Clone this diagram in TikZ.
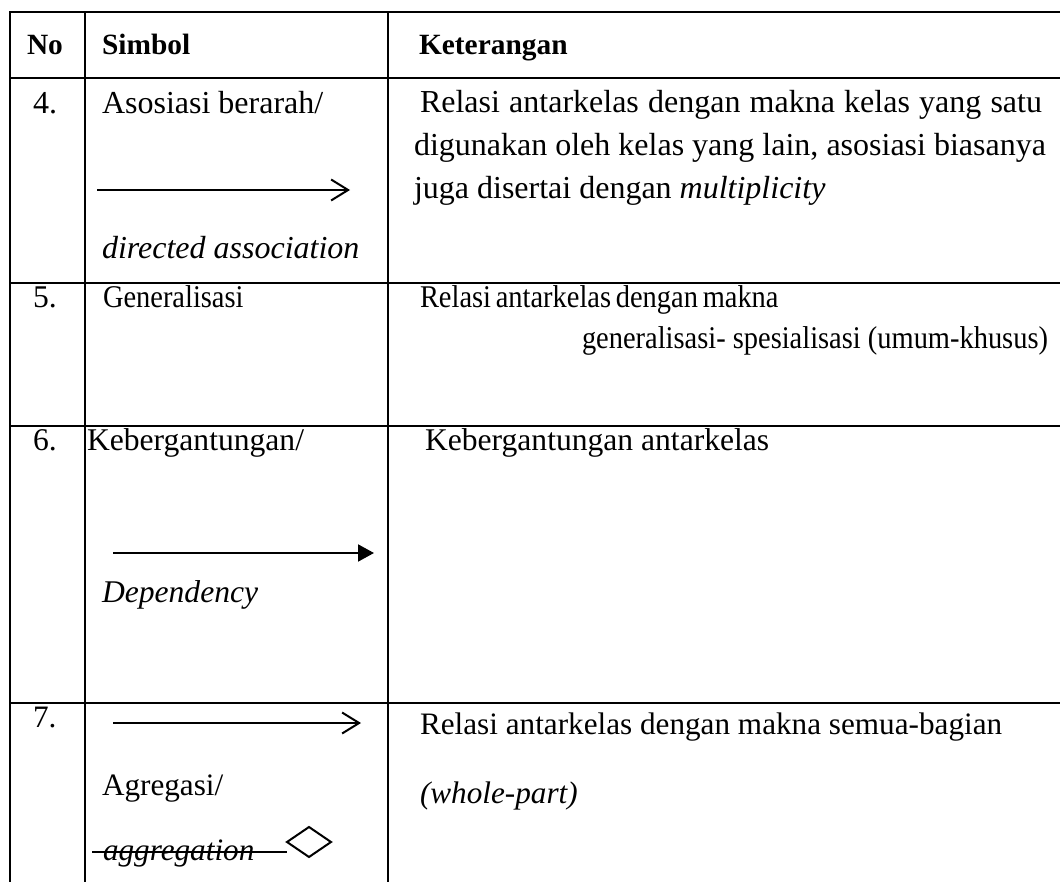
\documentclass[tikz,border=0pt]{standalone}
\usepackage{fontspec}
\usepackage{graphicx}
\setmainfont{Liberation Serif}
\usetikzlibrary{arrows.meta}
\newcommand{\fsz}[1]{\fontsize{#1}{1.2\dimexpr#1\relax}\selectfont}
\newcommand{\condense}[1]{\scalebox{0.9}[1]{#1}}
\begin{document}
\begin{tikzpicture}[x=0.5pt,y=-0.5pt,
  grid/.style={line width=1pt,line cap=rect},
  txt/.style={anchor=base west,inner sep=0pt,outer sep=0pt},
  hd/.style={txt,font=\fsz{14.7pt}\bfseries},
  r4/.style={txt,font=\fsz{16pt}},
  r5/.style={txt,font=\fsz{15.8pt}},
  r6/.style={txt,font=\fsz{15.8pt}},
  r7/.style={txt,font=\fsz{15.6pt}},
  sym/.style={line width=1pt},
  openhead/.style={sym,-{Straight Barb[length=8.5pt,width=10.5pt,line width=1pt]}},
  filledhead/.style={sym,-{Triangle[length=8pt,width=8.5pt]}}]
\useasboundingbox (0,0) rectangle (1060,882);
% table grid
\draw[grid] (10,12) -- (1062,12);
\draw[grid] (10,78) -- (1062,78);
\draw[grid] (10,283) -- (1062,283);
\draw[grid] (10,426) -- (1062,426);
\draw[grid] (10,703) -- (1062,703);
\draw[grid] (10,12) -- (10,884);
\draw[grid] (85,12) -- (85,884);
\draw[grid] (388,12) -- (388,884);
% header
\node[hd] (hno) at (27,55) {No};
\node[hd] (hsim) at (102,55) {Simbol};
\node[hd] (hket) at (419,55) {Keterangan};
% row 4
\node[r4] (n4) at (33,114) {4.};
\node[r4] (s4a) at (102,114) {Asosiasi berarah/};
\coordinate (a4s) at (97,190);
\coordinate (a4e) at (350,190);
\draw[openhead] (a4s) -- (a4e);
\node[r4] (s4b) at (102,259) {\itshape directed association};
\node[r4] (k4a) at (420,113) {\makebox[311pt][s]{Relasi antarkelas dengan makna kelas yang satu}};
\node[r4] (k4b) at (414,156) {\makebox[316pt][s]{digunakan oleh kelas yang lain, asosiasi biasanya}};
\node[r4] (k4c) at (414,199) {juga disertai dengan \textit{multiplicity}};
% row 5
\node[r5] (n5) at (33,307) {5.};
\node[r5] (s5) at (103,307) {\condense{Generalisasi}};
\node[r5] (k5a) at (420,307) {\condense{\makebox[184pt][s]{Relasi antarkelas dengan makna}}};
\node[r5] (k5b) at (582,349) {\condense{generalisasi- spesialisasi (umum-khusus)}};
% row 6
\node[r6] (n6) at (33,450) {6.};
\node[r6] (s6a) at (87,450) {Kebergantungan/};
\coordinate (a6s) at (113,553);
\coordinate (a6e) at (374,553);
\draw[filledhead] (a6s) -- (a6e);
\node[r6] (s6b) at (102,602) {\itshape Dependency};
\node[r6] (k6) at (425,450) {Kebergantungan antarkelas};
% row 7
\node[r7] (n7) at (33,727) {7.};
\coordinate (a7s) at (113,723);
\coordinate (a7e) at (361,723);
\draw[openhead] (a7s) -- (a7e);
\node[r7] (s7a) at (102,795) {Agregasi/};
\node[r7] (s7b) at (103,860) {\itshape aggregation};
\coordinate (st1) at (92,852);
\coordinate (st2) at (287,852);
\draw[sym] (st1) -- (st2);
\draw[sym,line join=miter] (287,842) -- (309,827) -- (331,842) -- (309,857) -- cycle;
\node[r7] (k7a) at (420,734) {Relasi antarkelas dengan makna semua-bagian};
\node[r7] (k7b) at (420,803) {\itshape (whole-part)};
\end{tikzpicture}
\end{document}
